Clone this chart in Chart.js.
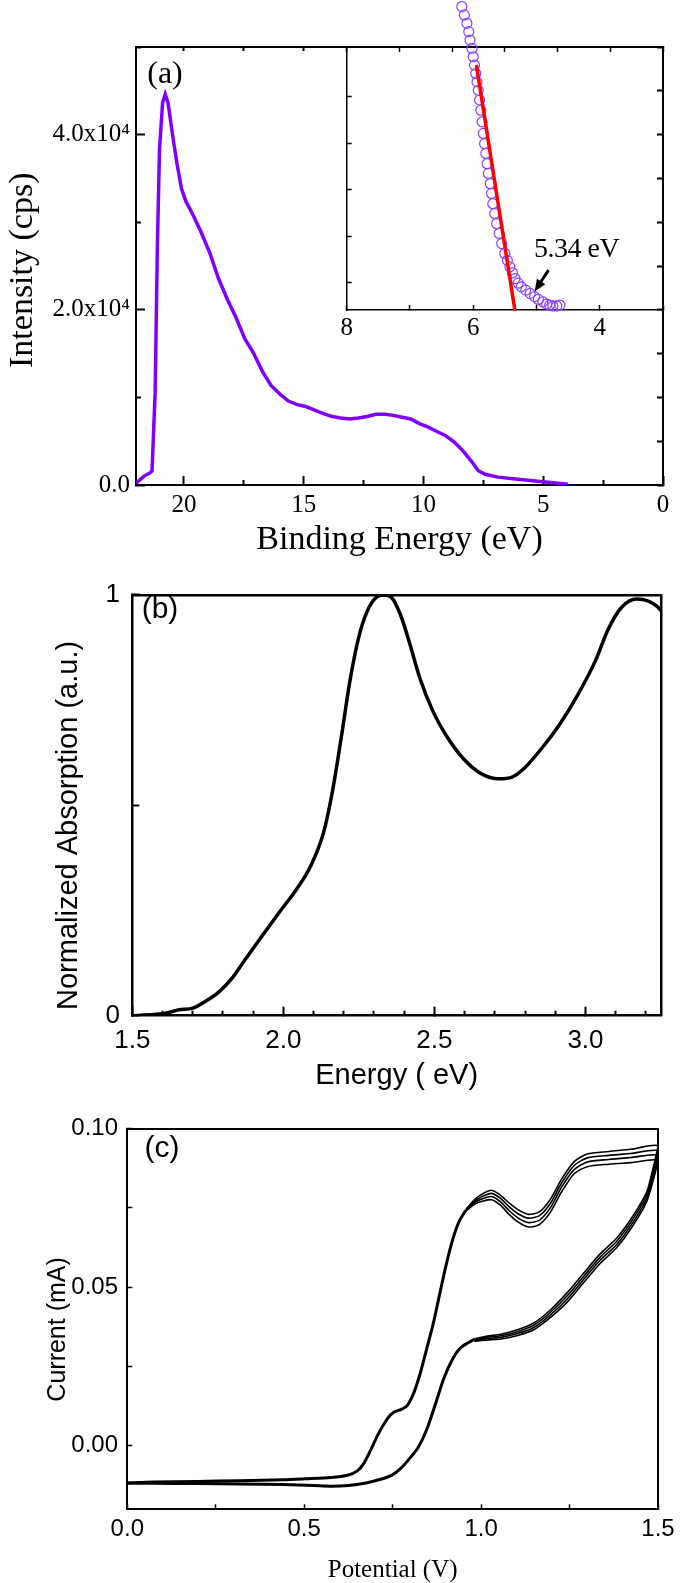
<!DOCTYPE html>
<html>
<head>
<meta charset="utf-8">
<title>UPS, absorption and CV</title>
<script src="https://cdn.jsdelivr.net/npm/chart.js@4/dist/chart.umd.min.js"></script>
<style>
  html, body { margin: 0; background: #fff; }
  #page { position: relative; width: 685px; height: 1583px; overflow: hidden; }
  canvas { position: absolute; }
  .tag { position: absolute; line-height: 1; white-space: nowrap; color: #000; }
  .serif { font-family: 'Liberation Serif', 'Times New Roman', serif; }
  .sans { font-family: 'Liberation Sans', Arial, sans-serif; }
</style>
</head>
<body>
<div id="page">
  <canvas id="ups" width="685" height="560" style="left:0px;top:0px"></canvas>
  <canvas id="ups-inset" width="385" height="345" style="left:300px;top:0px"></canvas>
  <canvas id="abs" width="685" height="540" style="left:0px;top:560px"></canvas>
  <canvas id="cv" width="685" height="483" style="left:0px;top:1100px"></canvas>
  <div class="tag serif" style="left:165px;top:72px;font-size:32px;transform:translate(-50%,-50%)">(a)</div>
  <div class="tag serif" style="left:534px;top:248px;font-size:28px;letter-spacing:-0.5px;transform:translateY(-50%)">5.34 eV</div>
  <div class="tag sans" style="left:160px;top:608px;font-size:30px;transform:translate(-50%,-50%)">(b)</div>
  <div class="tag sans" style="left:162px;top:1147px;font-size:30px;transform:translate(-50%,-50%)">(c)</div>
</div>
<script>
(function () {
  'use strict';
  const serif = "'Liberation Serif', 'Times New Roman', serif";
  const sans = "'Liberation Sans', Arial, sans-serif";

  // (a) UPS spectrum
  const upsEnergy = [22.0, 21.66, 21.39, 21.33, 21.20, 21.11, 21.02, 20.89, 20.78, 20.66, 20.47, 20.29, 20.10, 19.92, 19.65,
    19.29, 18.92, 18.56, 18.19, 17.83, 17.46, 17.10, 16.73, 16.37, 16.00, 15.64, 15.27, 14.91, 14.54, 14.18, 13.81, 13.45,
    13.08, 12.72, 12.35, 11.99, 11.62, 11.26, 10.89, 10.53, 10.17, 9.80, 9.44, 9.07, 8.71, 8.34, 7.98, 7.71, 7.43, 6.89,
    6.16, 5.43, 4.70, 3.97];
  const upsCounts = [200, 1020, 1430, 1630, 10600, 26900, 38300, 43640, 44620, 43600, 39900, 36700, 33800, 32400, 31000,
    28900, 26500, 23600, 21200, 19150, 16700, 15100, 13000, 11400, 10400, 9580, 9170, 8960, 8560, 8150, 7820, 7660,
    7540, 7660, 7820, 8070, 8070, 7950, 7740, 7540, 7010, 6600, 6110, 5620, 4890, 3870, 2650, 1630, 1220, 900,
    690, 490, 285, 80];
  const upsXMajor = [20, 15, 10, 5, 0];
  const upsXLabels = ['20', '15', '10', '5', '0'];
  const upsXMinor = [17.5, 12.5, 7.5, 2.5];
  const upsYMajor = [0, 20000, 40000];
  const upsYLabels = ['0.0', '2.0x10⁴', '4.0x10⁴'];
  const upsYMinor = [10000, 30000, 50000];
  const upsTopTicks = [20, 17.5, 15];
  const upsRightTicks = [0, 5000, 10000, 15000, 20000, 25000, 30000, 35000, 40000, 45000, 50000];

  // (a) inset: onset region
  const onsetEnergy = [6.26, 6.18, 6.14, 6.10, 6.07, 6.05, 6.02, 6.00, 5.98, 5.96, 5.94, 5.92, 5.90, 5.88, 5.86, 5.84,
    5.82, 5.80, 5.78, 5.76, 5.73, 5.71, 5.69, 5.66, 5.63, 5.59, 5.55, 5.50, 5.46, 5.42, 5.38, 5.34, 5.29, 5.24, 5.17,
    5.10, 5.03, 4.97, 4.90, 4.84, 4.79, 4.74, 4.68, 4.63];
  const onsetCounts = [7.30, 6.94, 6.76, 6.58, 6.40, 6.22, 6.04, 5.86, 5.68, 5.50, 5.32, 5.14, 4.93, 4.71, 4.46, 4.21,
    3.99, 3.78, 3.56, 3.35, 3.13, 2.92, 2.70, 2.49, 2.27, 2.06, 1.84, 1.63, 1.48, 1.34, 1.21, 1.09, 0.99, 0.91, 0.84,
    0.77, 0.70, 0.64, 0.59, 0.54, 0.52, 0.50, 0.50, 0.52];
  const fitEnergy = [5.95, 5.34];
  const fitCounts = [5.68, 0.40];
  const arrowTail = [4.81, 1.27];
  const arrowHead = [5.03, 0.81];
  const insetXTicks = [8, 7, 6, 5, 4, 3];
  const insetXLabels = ['8', '', '6', '', '4', ''];
  const insetTopTicks = [0, 1, 2, 3, 4, 5, 6];
  const insetYTicks = [1, 2, 3, 4, 5];

  // (b) absorption
  const absEnergy = [1.5, 1.554, 1.61, 1.655, 1.70, 1.742, 1.786, 1.829, 1.872, 1.93, 1.988, 2.046, 2.09, 2.133, 2.162,
    2.191, 2.22, 2.249, 2.278, 2.307, 2.333, 2.358, 2.387, 2.416, 2.452, 2.496, 2.539, 2.597, 2.655, 2.713, 2.757, 2.80,
    2.858, 2.916, 2.974, 3.032, 3.075, 3.119, 3.17, 3.206, 3.235, 3.25];
  const absValue = [0, 0.002, 0.006, 0.014, 0.018, 0.034, 0.056, 0.088, 0.132, 0.19, 0.247, 0.303, 0.355, 0.435, 0.531,
    0.658, 0.794, 0.898, 0.962, 0.994, 1.0, 0.994, 0.954, 0.89, 0.802, 0.722, 0.666, 0.61, 0.575, 0.563, 0.567, 0.59,
    0.638, 0.694, 0.762, 0.842, 0.918, 0.97, 0.99, 0.986, 0.974, 0.963];
  const absXMajor = [1.5, 2.0, 2.5, 3.0];
  const absXLabels = ['1.5', '2.0', '2.5', '3.0'];
  const absXMinor = [1.6, 1.7, 1.8, 1.9, 2.1, 2.2, 2.3, 2.4, 2.6, 2.7, 2.8, 2.9, 3.1, 3.2];
  const absYTicks = [0, 0.5, 1];
  const absYLabels = ['0', '', '1'];

  // (c) cyclic voltammetry: shared low-potential part + separate cycles above ~0.95 V
  const cvFwdV = [0.0, 0.074, 0.196, 0.319, 0.441, 0.503, 0.576, 0.625, 0.650, 0.668, 0.687, 0.711, 0.736, 0.754, 0.773,
    0.791, 0.810, 0.828, 0.846, 0.865, 0.883, 0.901, 0.920, 0.938, 0.957];
  const cvFwdI = [-0.0117, -0.0114, -0.0112, -0.0110, -0.0107, -0.0104, -0.0100, -0.0092, -0.0079, -0.0056, -0.0015,
    0.0041, 0.0087, 0.0107, 0.0114, 0.0127, 0.0168, 0.0229, 0.0305, 0.0387, 0.0479, 0.0570, 0.0652, 0.0708, 0.0743];
  const cvRevV = [0.981, 0.944, 0.920, 0.895, 0.871, 0.846, 0.822, 0.797, 0.773, 0.748, 0.711, 0.675, 0.625, 0.576,
    0.527, 0.441, 0.319, 0.196, 0.074, 0.0];
  const cvRevI = [0.0336, 0.0311, 0.0275, 0.0214, 0.0132, 0.0051, -0.0005, -0.0041, -0.0071, -0.0092, -0.0107, -0.0117,
    -0.0125, -0.0127, -0.0125, -0.0122, -0.0120, -0.0119, -0.0118, -0.0117];
  const cvHighV = [0.957, 0.981, 1.006, 1.03, 1.055, 1.079, 1.104, 1.134, 1.165, 1.196, 1.227, 1.263, 1.30, 1.361, 1.423,
    1.5, 1.487, 1.468, 1.431, 1.384, 1.337, 1.29, 1.244, 1.197, 1.15, 1.103, 1.056, 1.018, 0.981];
  const cvCycle1 = [0.0746, 0.0776, 0.0796, 0.0806, 0.0790, 0.0766, 0.0745, 0.0730, 0.0738, 0.0778, 0.0840, 0.0896, 0.0920,
    0.0928, 0.0935, 0.0946, 0.0880, 0.0800, 0.0728, 0.0656, 0.0606, 0.0545, 0.0484, 0.0430, 0.0388, 0.0366, 0.0352, 0.0346, 0.0338];
  const cvCycle2 = [0.0744, 0.0771, 0.0788, 0.0796, 0.0780, 0.0754, 0.0732, 0.0718, 0.0726, 0.0765, 0.0828, 0.0884, 0.0908,
    0.0916, 0.0922, 0.0930, 0.0866, 0.0790, 0.0718, 0.0646, 0.0596, 0.0535, 0.0474, 0.0422, 0.0381, 0.0360, 0.0347, 0.0342, 0.0335];
  const cvCycle3 = [0.0742, 0.0767, 0.0780, 0.0786, 0.0769, 0.0742, 0.0719, 0.0704, 0.0712, 0.0751, 0.0815, 0.0871, 0.0895,
    0.0903, 0.0909, 0.0916, 0.0852, 0.0780, 0.0708, 0.0636, 0.0586, 0.0525, 0.0464, 0.0414, 0.0374, 0.0354, 0.0342, 0.0338, 0.0332];
  const cvCycle4 = [0.0740, 0.0762, 0.0772, 0.0776, 0.0758, 0.0730, 0.0706, 0.0690, 0.0698, 0.0737, 0.0800, 0.0858, 0.0880,
    0.0888, 0.0893, 0.0900, 0.0840, 0.0770, 0.0698, 0.0626, 0.0576, 0.0515, 0.0454, 0.0406, 0.0367, 0.0348, 0.0337, 0.0334, 0.0330];
  const cvXTicks = [0, 0.25, 0.5, 0.75, 1.0, 1.25, 1.5];
  const cvXLabels = ['0.0', '', '0.5', '', '1.0', '', '1.5'];
  const cvYTicks = [0, 0.025, 0.05, 0.075, 0.1];
  const cvYLabels = ['0.00', '', '0.05', '', '0.10'];

  const pts = (xs, ys) => xs.map((x, i) => ({ x, y: ys[i] }));
  const size = n => s => { if (s.isHorizontal()) s.height = n; else s.width = n; };
  const useTicks = vals => s => { s.ticks = vals.map(value => ({ value })); };
  const labelFrom = (vals, labels) => v => { const i = vals.indexOf(v); return i < 0 ? '' : labels[i]; };

  // tick marks pointing into the plot
  const inward = (len, width) => ({ drawOnChartArea: false, tickLength: -len, tickColor: '#000', tickWidth: width });

  // extra axis on the same edge that only carries shorter (minor) ticks
  const minorAxis = (pos, range, ticks, len, width) => Object.assign({
    type: 'linear', position: pos, weight: 0,
    afterBuildTicks: useTicks(ticks), afterFit: size(0),
    grid: inward(len, width), border: { display: false }, ticks: { display: false },
  }, range);

  const frameOnly = (pos, bw) => ({
    type: 'linear', position: pos, afterFit: size(0),
    grid: { drawOnChartArea: false, drawTicks: false },
    border: { color: '#000', width: bw },
    ticks: { display: false },
  });
  const base = {
    responsive: false, animation: false, devicePixelRatio: 1,
    plugins: { legend: { display: false }, tooltip: { enabled: false } },
  };

  new Chart(document.getElementById('ups'), {
    type: 'line',
    data: { datasets: [{ data: pts(upsEnergy, upsCounts), borderColor: '#7f00ff', borderWidth: 3.5, pointRadius: 0 }] },
    options: Object.assign({}, base, {
      layout: { padding: { top: 47, right: 22, left: 0, bottom: 0 } },
      scales: {
        x: {
          type: 'linear', position: 'bottom', weight: 1, min: 0, max: 22, reverse: true,
          afterBuildTicks: useTicks(upsXMajor), afterFit: size(75),
          grid: inward(9, 2), border: { color: '#000', width: 2 },
          ticks: { padding: 14, autoSkip: false, maxRotation: 0, color: '#000', font: { family: serif, size: 25 }, callback: labelFrom(upsXMajor, upsXLabels) },
          title: { display: true, text: 'Binding Energy (eV)', color: '#000', font: { family: serif, size: 34 }, padding: 0 },
        },
        xMinor: minorAxis('bottom', { min: 0, max: 22, reverse: true }, upsXMinor, 5, 2),
        xTop: {
          type: 'linear', position: 'top', min: 0, max: 22, reverse: true,
          afterBuildTicks: useTicks(upsTopTicks), afterFit: size(0),
          grid: inward(4, 2), border: { color: '#000', width: 2 }, ticks: { display: false },
        },
        y: {
          type: 'linear', position: 'left', weight: 1, min: 0, max: 50000,
          afterBuildTicks: useTicks(upsYMajor), afterFit: size(136),
          grid: inward(9, 2), border: { color: '#000', width: 2 },
          ticks: { padding: 15, autoSkip: false, color: '#000', font: { family: serif, size: 25 }, callback: labelFrom(upsYMajor, upsYLabels) },
          title: { display: true, text: 'Intensity (cps) ', color: '#000', font: { family: serif, size: 34 }, padding: { top: 3, bottom: 0 } },
        },
        yMinor: minorAxis('left', { min: 0, max: 50000 }, upsYMinor, 5, 2),
        yRight: {
          type: 'linear', position: 'right', min: 0, max: 50000,
          afterBuildTicks: useTicks(upsRightTicks), afterFit: size(0),
          grid: inward(6, 2), border: { color: '#000', width: 2 }, ticks: { display: false },
        },
      },
    }),
  });

  const onsetArrow = {
    id: 'onsetArrow',
    afterDatasetsDraw(chart) {
      const { ctx, scales: { x, y } } = chart;
      // circles that run above the inset frame are still part of the curve
      chart.getDatasetMeta(1).data.forEach(p => { if (p.y < chart.chartArea.top - 5) p.draw(ctx); });
      const x1 = x.getPixelForValue(arrowTail[0]), y1 = y.getPixelForValue(arrowTail[1]);
      const x2 = x.getPixelForValue(arrowHead[0]), y2 = y.getPixelForValue(arrowHead[1]);
      const a = Math.atan2(y2 - y1, x2 - x1);
      const c = Math.cos(a), s = Math.sin(a);
      ctx.save();
      ctx.strokeStyle = '#000';
      ctx.fillStyle = '#000';
      ctx.lineWidth = 3;
      ctx.beginPath();
      ctx.moveTo(x1, y1);
      ctx.lineTo(x2 - 9 * c, y2 - 9 * s);
      ctx.stroke();
      ctx.beginPath();
      ctx.moveTo(x2, y2);
      ctx.lineTo(x2 - 12 * c + 5 * s, y2 - 12 * s - 5 * c);
      ctx.lineTo(x2 - 12 * c - 5 * s, y2 - 12 * s + 5 * c);
      ctx.closePath();
      ctx.fill();
      ctx.restore();
    },
  };

  new Chart(document.getElementById('ups-inset'), {
    type: 'line',
    data: {
      datasets: [
        { data: pts(fitEnergy, fitCounts), borderColor: '#ff0000', borderWidth: 3.5, pointRadius: 0, clip: false },
        {
          data: pts(onsetEnergy, onsetCounts), showLine: false, clip: false,
          pointRadius: 5, pointBorderWidth: 1.2, pointBorderColor: '#8a40ff', pointBackgroundColor: 'rgba(0,0,0,0)',
        },
      ],
    },
    options: Object.assign({}, base, {
      layout: { padding: { top: 47, right: 22, left: 0, bottom: 0 } },
      scales: {
        x: {
          type: 'linear', position: 'bottom', min: 3, max: 8, reverse: true,
          afterBuildTicks: useTicks(insetXTicks), afterFit: size(35),
          grid: inward(5, 1.5), border: { color: '#000', width: 1.5 },
          ticks: { padding: 8.6, autoSkip: false, maxRotation: 0, color: '#000', font: { family: serif, size: 25 }, callback: labelFrom(insetXTicks, insetXLabels) },
        },
        xTop: {
          type: 'linear', position: 'top', min: 0, max: 6,
          afterBuildTicks: useTicks(insetTopTicks), afterFit: size(0),
          grid: inward(5, 1.5), border: { color: '#000', width: 1.5 }, ticks: { display: false },
        },
        y: {
          type: 'linear', position: 'left', min: 0.413, max: 6.07,
          afterBuildTicks: useTicks(insetYTicks), afterFit: size(46.7),
          grid: inward(5, 1.5), border: { color: '#000', width: 1.5 }, ticks: { display: false },
        },
        yRight: frameOnly('right', 1.5),
      },
    }),
    plugins: [onsetArrow],
  });

  new Chart(document.getElementById('abs'), {
    type: 'line',
    data: { datasets: [{ data: pts(absEnergy, absValue), borderColor: '#000', borderWidth: 3.5, pointRadius: 0, cubicInterpolationMode: 'monotone' }] },
    options: Object.assign({}, base, {
      layout: { padding: { top: 24, right: 24, left: 0, bottom: 0 } },
      scales: {
        x: {
          type: 'linear', position: 'bottom', weight: 1, min: 1.5, max: 3.25,
          afterBuildTicks: useTicks(absXMajor), afterFit: size(84.3),
          grid: inward(9, 2), border: { color: '#000', width: 2.5 },
          ticks: { padding: 18.7, autoSkip: false, maxRotation: 0, color: '#000', font: { family: sans, size: 26 }, callback: labelFrom(absXMajor, absXLabels) },
          title: { display: true, text: 'Energy ( eV)', color: '#000', font: { family: sans, size: 29 }, padding: { top: 0, bottom: 7 } },
        },
        xMinor: minorAxis('bottom', { min: 1.5, max: 3.25 }, absXMinor, 5, 2),
        xTop: frameOnly('top', 2.5),
        y: {
          type: 'linear', position: 'left', min: 0, max: 1,
          afterBuildTicks: useTicks(absYTicks), afterFit: size(132.3),
          grid: inward(7, 2), border: { color: '#000', width: 2.5 },
          ticks: { padding: 19.3, autoSkip: false, color: '#000', font: { family: sans, size: 26 }, callback: labelFrom(absYTicks, absYLabels) },
          title: { display: true, text: 'Normalized Absorption (a.u.)     ', color: '#000', font: { family: sans, size: 29 }, padding: { top: 51.6, bottom: 0 } },
        },
        yRight: frameOnly('right', 2.5),
      },
    }),
  });

  const cvLine = (xs, ys, w) => ({ data: pts(xs, ys), borderColor: '#000', borderWidth: w, pointRadius: 0, tension: 0.25 });

  new Chart(document.getElementById('cv'), {
    type: 'line',
    data: {
      datasets: [
        cvLine(cvFwdV, cvFwdI, 3),
        cvLine(cvRevV, cvRevI, 3),
        cvLine(cvHighV, cvCycle1, 1.6),
        cvLine(cvHighV, cvCycle2, 1.6),
        cvLine(cvHighV, cvCycle3, 1.6),
        cvLine(cvHighV, cvCycle4, 1.6),
      ],
    },
    options: Object.assign({}, base, {
      layout: { padding: { top: 15.7, right: 24, left: 0, bottom: 0 } },
      scales: {
        x: {
          type: 'linear', position: 'bottom', min: 0, max: 1.5,
          afterBuildTicks: useTicks(cvXTicks), afterFit: size(73.7),
          grid: inward(5, 1.5), border: { color: '#000', width: 2 },
          ticks: { padding: 10.3, autoSkip: false, maxRotation: 0, color: '#000', font: { family: sans, size: 24 }, callback: labelFrom(cvXTicks, cvXLabels) },
          title: { display: true, text: 'Potential (V)', color: '#000', font: { family: serif, size: 25 }, padding: { top: 0, bottom: -2 } },
        },
        xTop: frameOnly('top', 2),
        y: {
          type: 'linear', position: 'left', min: -0.02, max: 0.1,
          afterBuildTicks: useTicks(cvYTicks), afterFit: size(127.3),
          grid: inward(5, 1.5), border: { color: '#000', width: 2 },
          ticks: { padding: 14.3, autoSkip: false, color: '#000', font: { family: sans, size: 24 }, callback: labelFrom(cvYTicks, cvYLabels) },
          title: { display: true, text: 'Current (mA)   ', color: '#000', font: { family: sans, size: 25 }, padding: { top: 43, bottom: 0 } },
        },
        yRight: frameOnly('right', 2),
      },
    }),
  });
})();
</script>
</body>
</html>
